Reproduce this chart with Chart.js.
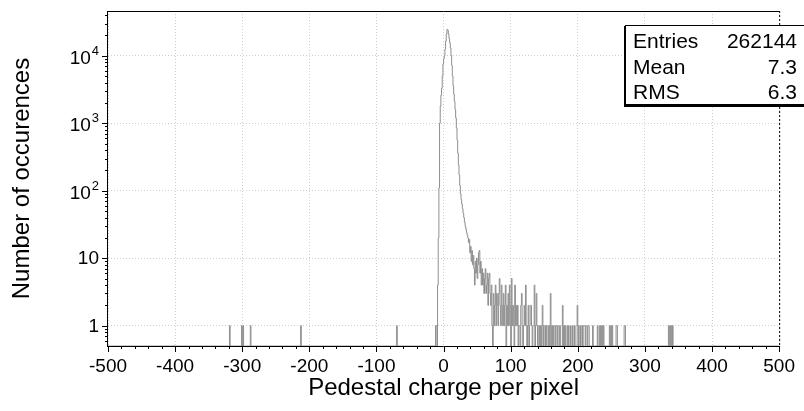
<!DOCTYPE html>
<html>
<head>
<meta charset="utf-8">
<script src="https://cdn.jsdelivr.net/npm/chart.js@4"></script>
<style>
  html, body { margin: 0; padding: 0; background: #fff; }
</style>
</head>
<body>
<canvas id="chart" width="804" height="411"></canvas>
<script>
// histogram: 1000 bins of width 1 between -500 and 500
const xMin = -500;
const xMax = 500;

// contiguous bins around the peak, first bin starts at coreStart
const coreStart = -12;
const coreCounts = [
  1, 1, 0, 4, 20, 110, 1000, 1800, 2600, 3300, 5000, 7500,          // -12 .. -1
  9000, 10000, 12500, 16500, 21000, 24500, 24000, 21000, 18000, 15500, // 0 .. 9
  13000, 10000, 7200, 5000, 3600, 2700, 2100, 1600, 1200, 850,        // 10 .. 19
  560, 360, 240, 170, 120, 90, 74, 63, 54, 46,                        // 20 .. 29
  40, 34, 30, 27, 24, 22, 20, 17, 19, 12,                             // 30 .. 39
  15, 9, 13, 8, 11, 7, 4, 9, 6, 10,                                   // 40 .. 49
  5, 8, 12, 13, 6, 9, 4, 7, 4, 6,                                     // 50 .. 59
  3, 5, 7, 3, 4, 6, 2, 5, 6, 3,                                       // 60 .. 69
  2, 4, 1, 0, 3, 1, 2, 4, 1, 3,                                       // 70 .. 79
  2, 1, 3, 5, 2, 1, 4, 2, 1, 3,                                       // 80 .. 89
  1, 2, 4, 0, 2, 1, 3, 1, 4, 2,                                       // 90 .. 99
  0, 5, 1, 2, 1, 0, 4, 1, 2, 1,                                       // 100 .. 109
  2, 0, 1, 1, 0, 2, 3, 1, 0, 1,                                       // 110 .. 119
  2, 1, 4, 1, 0, 1, 2, 0, 1, 2,                                       // 120 .. 129
  2, 1, 0, 1, 1, 4, 0, 1, 3, 1,                                       // 130 .. 139
  0, 1, 1, 0, 1, 0, 1, 2, 0, 1,                                       // 140 .. 149
  1                                                                   // 150
];

// isolated bins away from the peak
const sparseBins = [
  -319, -301, -299, -288, -213, -70,
  152, 154, 155, 157, 159, 160, 162, 164, 165, 167, 168, 170, 171, 173,
  177, 179, 181, 184, 186, 189, 192, 195, 199, 200, 203, 205, 206, 208,
  209, 210, 212, 213, 215, 216, 222, 229, 232, 234, 236, 238, 247, 249,
  251, 257, 258, 269, 270, 335, 337, 339, 341
];
const sparseCounts = [
  1, 1, 1, 1, 1, 1,
  1, 1, 1, 1, 3, 1, 1, 1, 1, 1, 1, 1, 1, 1,
  2, 1, 1, 1, 1, 1, 1, 1, 2, 1, 1, 1, 1, 1,
  1, 1, 1, 1, 1, 1, 1, 1, 1, 1, 1, 1, 1, 1,
  1, 1, 1, 1, 1, 1, 1, 1, 1
];

const yTicks = [1, 10, 100, 1000, 10000];
const yBase = ['1', '10', '10', '10', '10'];
const yExp = ['', '', '2', '3', '4'];
const statsNames = ['Entries', 'Mean', 'RMS'];
const statsValues = ['262144', '7.3', '6.3'];

const FONT = "'Liberation Sans', Arial, Helvetica, sans-serif";

// build the bin table
const counts = new Array(xMax - xMin).fill(0);
coreCounts.forEach((c, i) => { counts[coreStart + i - xMin] = c; });
sparseBins.forEach((b, i) => { counts[b - xMin] = sparseCounts[i]; });
const points = counts.map((c, i) => ({ x: xMin + i, y: c }));
points.push({ x: xMax, y: 0 });

// frame, tick marks, y labels with exponents and stats box, ROOT style
const rootFrame = {
  id: 'rootFrame',
  afterDatasetsDraw(chart) {
    const { ctx, chartArea: a, scales: { x, y } } = chart;
    const line = (x1, y1, x2, y2) => {
      ctx.beginPath(); ctx.moveTo(x1, y1); ctx.lineTo(x2, y2); ctx.stroke();
    };
    ctx.save();
    ctx.strokeStyle = '#000';
    ctx.lineWidth = 1;
    ctx.setLineDash([2, 2]);
    line(a.right + 0.5, a.top, a.right + 0.5, a.bottom);
    ctx.setLineDash([]);
    line(a.left, a.top + 0.5, a.right, a.top + 0.5);
    line(a.left - 0.5, a.top, a.left - 0.5, a.bottom + 1);
    line(a.left - 1, a.bottom + 0.5, a.right + 1, a.bottom + 0.5);

    // x ticks: major every 100, minor every 20
    for (let v = xMin; v <= xMax; v += 20) {
      const px = Math.round(x.getPixelForValue(v)) + 0.5;
      line(px, a.bottom, px, a.bottom + (v % 100 === 0 ? 6 : 3));
    }
    // y ticks: decades and minor log ticks
    for (let k = -1; k <= 4; k++) {
      for (let m = 1; m <= 9; m++) {
        const v = m * Math.pow(10, k);
        if (v <= y.min || v >= y.max) continue;
        const py = Math.round(y.getPixelForValue(v)) + 0.5;
        line(a.left - (m === 1 ? 6 : 3), py, a.left, py);
      }
    }

    // y labels
    ctx.fillStyle = '#000';
    ctx.textAlign = 'right';
    const right = a.left - 9;
    yTicks.forEach((v, i) => {
      const py = y.getPixelForValue(v);
      if (yExp[i]) {
        ctx.font = '13px ' + FONT;
        ctx.textBaseline = 'alphabetic';
        const ew = ctx.measureText(yExp[i]).width;
        ctx.fillText(yExp[i], right, py - 1);
        ctx.font = '19px ' + FONT;
        ctx.textBaseline = 'middle';
        ctx.fillText(yBase[i], right - ew - 1, py + 3);
      } else {
        ctx.font = '19px ' + FONT;
        ctx.textBaseline = 'middle';
        ctx.fillText(yBase[i], right, py + 1);
      }
    });
    ctx.restore();
  },
  afterDraw(chart) {
    const { ctx } = chart;
    const bx = 625, by = 25, bw = 180, bh = 80;
    ctx.save();
    ctx.fillStyle = '#000';
    ctx.fillRect(bx - 1, by + 1, bw, bh + 1);
    ctx.fillStyle = '#fff';
    ctx.fillRect(bx, by, bw, bh);
    ctx.strokeStyle = '#000';
    ctx.lineWidth = 1;
    ctx.strokeRect(bx + 0.5, by + 0.5, bw - 1, bh - 1);
    ctx.fillStyle = '#000';
    ctx.font = '21px ' + FONT;
    ctx.textBaseline = 'alphabetic';
    statsNames.forEach((name, i) => {
      const base = 48 + i * 25.5;
      ctx.textAlign = 'left';
      ctx.fillText(name, 633, base);
      ctx.textAlign = 'right';
      ctx.fillText(statsValues[i], 797, base);
    });
    ctx.restore();
  }
};

new Chart(document.getElementById('chart'), {
  type: 'line',
  data: {
    datasets: [{
      data: points,
      stepped: 'before',
      borderColor: '#8f8f8f',
      borderWidth: 1,
      pointRadius: 0,
      fill: false,
      tension: 0
    }]
  },
  options: {
    responsive: false,
    animation: false,
    devicePixelRatio: 1,
    parsing: false,
    normalized: true,
    layout: { padding: { top: 11, right: 24, left: 0, bottom: 0 } },
    plugins: { legend: { display: false }, tooltip: { enabled: false } },
    scales: {
      x: {
        type: 'linear',
        min: xMin,
        max: xMax,
        afterFit: (s) => { s.height = 65; },
        ticks: {
          stepSize: 100,
          padding: 9,
          color: '#000',
          font: { family: FONT, size: 19 }
        },
        grid: { color: '#cfcfcf', drawTicks: false },
        border: { display: false, dash: [1, 2] },
        title: {
          display: true,
          text: 'Pedestal charge per pixel',
          color: '#000',
          font: { family: FONT, size: 24 },
          padding: { top: 0, bottom: 8 }
        }
      },
      y: {
        type: 'logarithmic',
        min: 0.5,
        max: 46000,
        afterFit: (s) => { s.width = 108; },
        afterBuildTicks: (s) => { s.ticks = yTicks.map(v => ({ value: v })); },
        ticks: { display: false },
        grid: { color: '#cfcfcf', drawTicks: false },
        border: { display: false, dash: [1, 2] },
        title: {
          display: true,
          text: 'Number of occurences',
          color: '#000',
          font: { family: FONT, size: 24 },
          padding: { top: 8, bottom: 0 }
        }
      }
    }
  },
  plugins: [rootFrame]
});
</script>
</body>
</html>
